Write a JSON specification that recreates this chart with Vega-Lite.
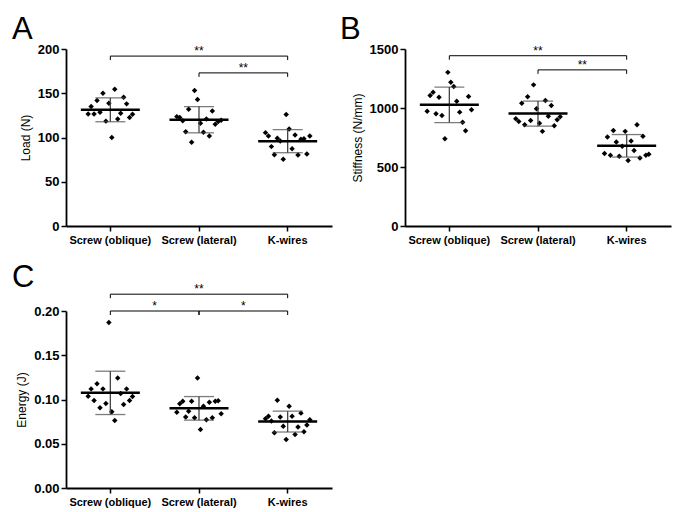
{
  "$schema": "https://vega.github.io/schema/vega-lite/v6.json",
  "background": "white",
  "padding": {"left": 12, "top": 14, "right": 4, "bottom": 4},
  "config": {
    "font": "Liberation Sans",
    "view": {"stroke": null},
    "axis": {"grid": false, "domainColor": "black", "domainWidth": 1.8, "tickColor": "black", "tickWidth": 1.5, "tickSize": 5, "labelColor": "black", "titleColor": "black", "labelFont": "Liberation Sans", "titleFont": "Liberation Sans"},
    "axisY": {"labelFontSize": 13, "labelFontWeight": "bold", "titleFontSize": 12, "titleFontWeight": "normal", "titlePadding": 5, "labelPadding": 2},
    "axisX": {"labelFontSize": 11, "labelFontWeight": "bold", "labelAngle": 0, "labelPadding": 3},
    "title": {"fontSize": 31, "fontWeight": "normal", "anchor": "start", "frame": "group", "color": "black", "font": "Liberation Sans"}
  },
  "datasets": {
    "pts": [
      {"panel":"A","group":"Screw (oblique)","id":1,"value":126.6},{"panel":"A","group":"Screw (oblique)","id":2,"value":134.9},{"panel":"A","group":"Screw (oblique)","id":3,"value":126.6},{"panel":"A","group":"Screw (oblique)","id":4,"value":141.7},{"panel":"A","group":"Screw (oblique)","id":5,"value":128.5},{"panel":"A","group":"Screw (oblique)","id":6,"value":150},{"panel":"A","group":"Screw (oblique)","id":7,"value":118.5},{"panel":"A","group":"Screw (oblique)","id":8,"value":138.7},{"panel":"A","group":"Screw (oblique)","id":9,"value":100},{"panel":"A","group":"Screw (oblique)","id":10,"value":154.5},{"panel":"A","group":"Screw (oblique)","id":11,"value":121},{"panel":"A","group":"Screw (oblique)","id":12,"value":127.5},{"panel":"A","group":"Screw (oblique)","id":13,"value":145.5},{"panel":"A","group":"Screw (oblique)","id":14,"value":138},{"panel":"A","group":"Screw (oblique)","id":15,"value":122.5},{"panel":"A","group":"Screw (oblique)","id":16,"value":126.2},
      {"panel":"A","group":"Screw (lateral)","id":1,"value":123.6},{"panel":"A","group":"Screw (lateral)","id":2,"value":122.5},{"panel":"A","group":"Screw (lateral)","id":3,"value":119},{"panel":"A","group":"Screw (lateral)","id":4,"value":106.6},{"panel":"A","group":"Screw (lateral)","id":5,"value":132},{"panel":"A","group":"Screw (lateral)","id":6,"value":94.6},{"panel":"A","group":"Screw (lateral)","id":7,"value":153},{"panel":"A","group":"Screw (lateral)","id":8,"value":143},{"panel":"A","group":"Screw (lateral)","id":9,"value":116},{"panel":"A","group":"Screw (lateral)","id":10,"value":105.9},{"panel":"A","group":"Screw (lateral)","id":11,"value":121},{"panel":"A","group":"Screw (lateral)","id":12,"value":101.7},{"panel":"A","group":"Screw (lateral)","id":13,"value":130},{"panel":"A","group":"Screw (lateral)","id":14,"value":115},{"panel":"A","group":"Screw (lateral)","id":15,"value":118},{"panel":"A","group":"Screw (lateral)","id":16,"value":119.5},
      {"panel":"A","group":"K-wires","id":1,"value":105.5},{"panel":"A","group":"K-wires","id":2,"value":101.7},{"panel":"A","group":"K-wires","id":3,"value":89.7},{"panel":"A","group":"K-wires","id":4,"value":80.6},{"panel":"A","group":"K-wires","id":5,"value":99.1},{"panel":"A","group":"K-wires","id":6,"value":96},{"panel":"A","group":"K-wires","id":7,"value":75.3},{"panel":"A","group":"K-wires","id":8,"value":125.9},{"panel":"A","group":"K-wires","id":9,"value":109.7},{"panel":"A","group":"K-wires","id":10,"value":87.4},{"panel":"A","group":"K-wires","id":11,"value":102.9},{"panel":"A","group":"K-wires","id":12,"value":80.2},{"panel":"A","group":"K-wires","id":13,"value":98},{"panel":"A","group":"K-wires","id":14,"value":98.7},{"panel":"A","group":"K-wires","id":15,"value":81.3},{"panel":"A","group":"K-wires","id":16,"value":101.7},
      {"panel":"B","group":"Screw (oblique)","id":1,"value":973},{"panel":"B","group":"Screw (oblique)","id":2,"value":1106},{"panel":"B","group":"Screw (oblique)","id":3,"value":1134},{"panel":"B","group":"Screw (oblique)","id":4,"value":951},{"panel":"B","group":"Screw (oblique)","id":5,"value":1092},{"panel":"B","group":"Screw (oblique)","id":6,"value":937},{"panel":"B","group":"Screw (oblique)","id":7,"value":740},{"panel":"B","group":"Screw (oblique)","id":8,"value":1302},{"panel":"B","group":"Screw (oblique)","id":9,"value":1218},{"panel":"B","group":"Screw (oblique)","id":10,"value":1182},{"panel":"B","group":"Screw (oblique)","id":11,"value":1058},{"panel":"B","group":"Screw (oblique)","id":12,"value":965},{"panel":"B","group":"Screw (oblique)","id":13,"value":880},{"panel":"B","group":"Screw (oblique)","id":14,"value":808},{"panel":"B","group":"Screw (oblique)","id":15,"value":1097},{"panel":"B","group":"Screw (oblique)","id":16,"value":985},
      {"panel":"B","group":"Screw (lateral)","id":1,"value":909},{"panel":"B","group":"Screw (lateral)","id":2,"value":886},{"panel":"B","group":"Screw (lateral)","id":3,"value":1041},{"panel":"B","group":"Screw (lateral)","id":4,"value":858},{"panel":"B","group":"Screw (lateral)","id":5,"value":1095},{"panel":"B","group":"Screw (lateral)","id":6,"value":895},{"panel":"B","group":"Screw (lateral)","id":7,"value":1196},{"panel":"B","group":"Screw (lateral)","id":8,"value":993},{"panel":"B","group":"Screw (lateral)","id":9,"value":870},{"panel":"B","group":"Screw (lateral)","id":10,"value":802},{"panel":"B","group":"Screw (lateral)","id":11,"value":1064},{"panel":"B","group":"Screw (lateral)","id":12,"value":931},{"panel":"B","group":"Screw (lateral)","id":13,"value":1021},{"panel":"B","group":"Screw (lateral)","id":14,"value":850},{"panel":"B","group":"Screw (lateral)","id":15,"value":901},{"panel":"B","group":"Screw (lateral)","id":16,"value":926},
      {"panel":"B","group":"K-wires","id":1,"value":614},{"panel":"B","group":"K-wires","id":2,"value":754},{"panel":"B","group":"K-wires","id":3,"value":599},{"panel":"B","group":"K-wires","id":4,"value":810},{"panel":"B","group":"K-wires","id":5,"value":712},{"panel":"B","group":"K-wires","id":6,"value":591},{"panel":"B","group":"K-wires","id":7,"value":675},{"panel":"B","group":"K-wires","id":8,"value":802},{"panel":"B","group":"K-wires","id":9,"value":555},{"panel":"B","group":"K-wires","id":10,"value":720},{"panel":"B","group":"K-wires","id":11,"value":639},{"panel":"B","group":"K-wires","id":12,"value":858},{"panel":"B","group":"K-wires","id":13,"value":577},{"panel":"B","group":"K-wires","id":14,"value":760},{"panel":"B","group":"K-wires","id":15,"value":599},{"panel":"B","group":"K-wires","id":16,"value":608},
      {"panel":"C","group":"Screw (oblique)","id":1,"value":0.1038},{"panel":"C","group":"Screw (oblique)","id":2,"value":0.112},{"panel":"C","group":"Screw (oblique)","id":3,"value":0.0989},{"panel":"C","group":"Screw (oblique)","id":4,"value":0.1177},{"panel":"C","group":"Screw (oblique)","id":5,"value":0.0906},{"panel":"C","group":"Screw (oblique)","id":6,"value":0.112},{"panel":"C","group":"Screw (oblique)","id":7,"value":0.0955},{"panel":"C","group":"Screw (oblique)","id":8,"value":0.187},{"panel":"C","group":"Screw (oblique)","id":9,"value":0.0861},{"panel":"C","group":"Screw (oblique)","id":10,"value":0.0763},{"panel":"C","group":"Screw (oblique)","id":11,"value":0.1244},{"panel":"C","group":"Screw (oblique)","id":12,"value":0.1068},{"panel":"C","group":"Screw (oblique)","id":13,"value":0.0944},{"panel":"C","group":"Screw (oblique)","id":14,"value":0.112},{"panel":"C","group":"Screw (oblique)","id":15,"value":0.0989},{"panel":"C","group":"Screw (oblique)","id":16,"value":0.1034},
      {"panel":"C","group":"Screw (lateral)","id":1,"value":0.0857},{"panel":"C","group":"Screw (lateral)","id":2,"value":0.0951},{"panel":"C","group":"Screw (lateral)","id":3,"value":0.0981},{"panel":"C","group":"Screw (lateral)","id":4,"value":0.0801},{"panel":"C","group":"Screw (lateral)","id":5,"value":0.0868},{"panel":"C","group":"Screw (lateral)","id":6,"value":0.0981},{"panel":"C","group":"Screw (lateral)","id":7,"value":0.0793},{"panel":"C","group":"Screw (lateral)","id":8,"value":0.1244},{"panel":"C","group":"Screw (lateral)","id":9,"value":0.0662},{"panel":"C","group":"Screw (lateral)","id":10,"value":0.0925},{"panel":"C","group":"Screw (lateral)","id":11,"value":0.0771},{"panel":"C","group":"Screw (lateral)","id":12,"value":0.097},{"panel":"C","group":"Screw (lateral)","id":13,"value":0.0793},{"panel":"C","group":"Screw (lateral)","id":14,"value":0.0981},{"panel":"C","group":"Screw (lateral)","id":15,"value":0.0985},{"panel":"C","group":"Screw (lateral)","id":16,"value":0.0838},
      {"panel":"C","group":"K-wires","id":1,"value":0.0782},{"panel":"C","group":"K-wires","id":2,"value":0.0812},{"panel":"C","group":"K-wires","id":3,"value":0.0756},{"panel":"C","group":"K-wires","id":4,"value":0.0624},{"panel":"C","group":"K-wires","id":5,"value":0.0992},{"panel":"C","group":"K-wires","id":6,"value":0.0801},{"panel":"C","group":"K-wires","id":7,"value":0.0699},{"panel":"C","group":"K-wires","id":8,"value":0.0549},{"panel":"C","group":"K-wires","id":9,"value":0.0925},{"panel":"C","group":"K-wires","id":10,"value":0.0812},{"panel":"C","group":"K-wires","id":11,"value":0.0605},{"panel":"C","group":"K-wires","id":12,"value":0.0688},{"panel":"C","group":"K-wires","id":13,"value":0.0846},{"panel":"C","group":"K-wires","id":14,"value":0.0635},{"panel":"C","group":"K-wires","id":15,"value":0.0711},{"panel":"C","group":"K-wires","id":16,"value":0.0771}
    ],
    "brk": [
      {"panel":"A","from":"Screw (oblique)","to":"K-wires","mid":"Screw (lateral)","level":192,"label":"**"},
      {"panel":"A","from":"Screw (lateral)","to":"K-wires","level":173,"label":"**"},
      {"panel":"B","from":"Screw (oblique)","to":"K-wires","mid":"Screw (lateral)","level":1443,"label":"**"},
      {"panel":"B","from":"Screw (lateral)","to":"K-wires","level":1323,"label":"**"},
      {"panel":"C","from":"Screw (oblique)","to":"K-wires","mid":"Screw (lateral)","level":0.219,"label":"**"},
      {"panel":"C","from":"Screw (oblique)","to":"Screw (lateral)","level":0.2,"label":"*"},
      {"panel":"C","from":"Screw (lateral)","to":"K-wires","level":0.2,"label":"*"}
    ]
  },
  "spacing": 17,
  "vconcat": [
    {
      "spacing": 8,
      "hconcat": [
        {
          "title": {"text": "A", "dx": -54, "offset": -3},
          "width": 266, "height": 177,
          "layer": [
            {"data": {"name": "pts"}, "transform": [{"filter": "datum.panel == 'A'"}],
             "mark": {"type": "point", "shape": "diamond", "filled": true, "color": "black", "size": 30, "opacity": 1},
             "encoding": {
               "x": {"field": "group", "type": "nominal", "title": null, "scale": {"domain": ["Screw (oblique)", "Screw (lateral)", "K-wires"], "paddingInner": 0.5, "paddingOuter": 0.25}},
               "xOffset": {"field": "id", "type": "ordinal", "scale": {"paddingInner": 0, "paddingOuter": 0}},
               "y": {"field": "value", "type": "quantitative", "title": "Load (N)", "scale": {"domain": [0, 200], "nice": false}, "axis": {"values": [0, 50, 100, 150, 200]}}}},
            {"data": {"name": "pts"}, "transform": [{"filter": "datum.panel == 'A'"}],
             "mark": {"type": "errorbar", "extent": "stdev", "ticks": true, "size": 30, "thickness": 1.3, "color": "#444"},
             "encoding": {
               "x": {"field": "group", "type": "nominal", "title": null},
               "y": {"field": "value", "type": "quantitative", "title": "Load (N)"}}},
            {"data": {"name": "pts"}, "transform": [{"filter": "datum.panel == 'A'"}],
             "mark": {"type": "tick", "color": "black", "thickness": 2.5, "size": 59},
             "encoding": {
               "x": {"field": "group", "type": "nominal", "title": null},
               "y": {"aggregate": "mean", "field": "value", "type": "quantitative", "title": "Load (N)"}}},
            {"data": {"name": "brk"}, "transform": [{"filter": "datum.panel == 'A'"}],
             "mark": {"type": "rule", "color": "black", "strokeWidth": 1},
             "encoding": {
               "x": {"field": "from", "type": "nominal", "bandPosition": 0.5, "title": null},
               "x2": {"field": "to", "bandPosition": 0.5},
               "y": {"field": "level", "type": "quantitative", "title": "Load (N)"}}},
            {"data": {"name": "brk"}, "transform": [{"filter": "datum.panel == 'A'"}, {"fold": ["from", "to"], "as": ["side", "end"]}],
             "mark": {"type": "rule", "color": "black", "strokeWidth": 1, "y2Offset": 4},
             "encoding": {
               "x": {"field": "end", "type": "nominal", "bandPosition": 0.5, "title": null},
               "y": {"field": "level", "type": "quantitative", "title": "Load (N)"},
               "y2": {"field": "level"}}},
            {"data": {"name": "brk"}, "transform": [{"filter": "datum.panel == 'A' && datum.mid"}],
             "mark": {"type": "text", "fontSize": 12, "baseline": "alphabetic", "dy": -1, "color": "black"},
             "encoding": {
               "x": {"field": "mid", "type": "nominal", "bandPosition": 0.5, "title": null},
               "y": {"field": "level", "type": "quantitative", "title": "Load (N)"},
               "text": {"field": "label"}}},
            {"data": {"name": "brk"}, "transform": [{"filter": "datum.panel == 'A' && !datum.mid"}],
             "mark": {"type": "text", "fontSize": 12, "baseline": "alphabetic", "dy": -1, "color": "black"},
             "encoding": {
               "x": {"field": "from", "type": "nominal", "bandPosition": 1.5, "title": null},
               "y": {"field": "level", "type": "quantitative", "title": "Load (N)"},
               "text": {"field": "label"}}}
          ]
        },
        {
          "title": {"text": "B", "dx": -65, "offset": -3},
          "width": 266, "height": 177,
          "layer": [
            {"data": {"name": "pts"}, "transform": [{"filter": "datum.panel == 'B'"}],
             "mark": {"type": "point", "shape": "diamond", "filled": true, "color": "black", "size": 30, "opacity": 1},
             "encoding": {
               "x": {"field": "group", "type": "nominal", "title": null, "scale": {"domain": ["Screw (oblique)", "Screw (lateral)", "K-wires"], "paddingInner": 0.5, "paddingOuter": 0.25}},
               "xOffset": {"field": "id", "type": "ordinal", "scale": {"paddingInner": 0, "paddingOuter": 0}},
               "y": {"field": "value", "type": "quantitative", "title": "Stiffness (N/mm)", "scale": {"domain": [0, 1500], "nice": false}, "axis": {"values": [0, 500, 1000, 1500], "format": "d"}}}},
            {"data": {"name": "pts"}, "transform": [{"filter": "datum.panel == 'B'"}],
             "mark": {"type": "errorbar", "extent": "stdev", "ticks": true, "size": 30, "thickness": 1.3, "color": "#444"},
             "encoding": {
               "x": {"field": "group", "type": "nominal", "title": null},
               "y": {"field": "value", "type": "quantitative", "title": "Stiffness (N/mm)"}}},
            {"data": {"name": "pts"}, "transform": [{"filter": "datum.panel == 'B'"}],
             "mark": {"type": "tick", "color": "black", "thickness": 2.5, "size": 59},
             "encoding": {
               "x": {"field": "group", "type": "nominal", "title": null},
               "y": {"aggregate": "mean", "field": "value", "type": "quantitative", "title": "Stiffness (N/mm)"}}},
            {"data": {"name": "brk"}, "transform": [{"filter": "datum.panel == 'B'"}],
             "mark": {"type": "rule", "color": "black", "strokeWidth": 1},
             "encoding": {
               "x": {"field": "from", "type": "nominal", "bandPosition": 0.5, "title": null},
               "x2": {"field": "to", "bandPosition": 0.5},
               "y": {"field": "level", "type": "quantitative", "title": "Stiffness (N/mm)"}}},
            {"data": {"name": "brk"}, "transform": [{"filter": "datum.panel == 'B'"}, {"fold": ["from", "to"], "as": ["side", "end"]}],
             "mark": {"type": "rule", "color": "black", "strokeWidth": 1, "y2Offset": 4},
             "encoding": {
               "x": {"field": "end", "type": "nominal", "bandPosition": 0.5, "title": null},
               "y": {"field": "level", "type": "quantitative", "title": "Stiffness (N/mm)"},
               "y2": {"field": "level"}}},
            {"data": {"name": "brk"}, "transform": [{"filter": "datum.panel == 'B' && datum.mid"}],
             "mark": {"type": "text", "fontSize": 12, "baseline": "alphabetic", "dy": -1, "color": "black"},
             "encoding": {
               "x": {"field": "mid", "type": "nominal", "bandPosition": 0.5, "title": null},
               "y": {"field": "level", "type": "quantitative", "title": "Stiffness (N/mm)"},
               "text": {"field": "label"}}},
            {"data": {"name": "brk"}, "transform": [{"filter": "datum.panel == 'B' && !datum.mid"}],
             "mark": {"type": "text", "fontSize": 12, "baseline": "alphabetic", "dy": -1, "color": "black"},
             "encoding": {
               "x": {"field": "from", "type": "nominal", "bandPosition": 1.5, "title": null},
               "y": {"field": "level", "type": "quantitative", "title": "Stiffness (N/mm)"},
               "text": {"field": "label"}}}
          ]
        }
      ]
    },
    {
      "title": {"text": "C", "dx": -54, "offset": -11},
      "width": 266, "height": 177,
      "layer": [
        {"data": {"name": "pts"}, "transform": [{"filter": "datum.panel == 'C'"}],
         "mark": {"type": "point", "shape": "diamond", "filled": true, "color": "black", "size": 30, "opacity": 1},
         "encoding": {
           "x": {"field": "group", "type": "nominal", "title": null, "scale": {"domain": ["Screw (oblique)", "Screw (lateral)", "K-wires"], "paddingInner": 0.5, "paddingOuter": 0.25}},
           "xOffset": {"field": "id", "type": "ordinal", "scale": {"paddingInner": 0, "paddingOuter": 0}},
           "y": {"field": "value", "type": "quantitative", "title": "Energy (J)", "scale": {"domain": [0, 0.2], "nice": false}, "axis": {"values": [0, 0.05, 0.1, 0.15, 0.2], "format": ".2f"}}}},
        {"data": {"name": "pts"}, "transform": [{"filter": "datum.panel == 'C'"}],
         "mark": {"type": "errorbar", "extent": "stdev", "ticks": true, "size": 30, "thickness": 1.3, "color": "#444"},
         "encoding": {
           "x": {"field": "group", "type": "nominal", "title": null},
           "y": {"field": "value", "type": "quantitative", "title": "Energy (J)"}}},
        {"data": {"name": "pts"}, "transform": [{"filter": "datum.panel == 'C'"}],
         "mark": {"type": "tick", "color": "black", "thickness": 2.5, "size": 59},
         "encoding": {
           "x": {"field": "group", "type": "nominal", "title": null},
           "y": {"aggregate": "mean", "field": "value", "type": "quantitative", "title": "Energy (J)"}}},
        {"data": {"name": "brk"}, "transform": [{"filter": "datum.panel == 'C'"}],
         "mark": {"type": "rule", "color": "black", "strokeWidth": 1},
         "encoding": {
           "x": {"field": "from", "type": "nominal", "bandPosition": 0.5, "title": null},
           "x2": {"field": "to", "bandPosition": 0.5},
           "y": {"field": "level", "type": "quantitative", "title": "Energy (J)"}}},
        {"data": {"name": "brk"}, "transform": [{"filter": "datum.panel == 'C'"}, {"fold": ["from", "to"], "as": ["side", "end"]}],
         "mark": {"type": "rule", "color": "black", "strokeWidth": 1, "y2Offset": 4},
         "encoding": {
           "x": {"field": "end", "type": "nominal", "bandPosition": 0.5, "title": null},
           "y": {"field": "level", "type": "quantitative", "title": "Energy (J)"},
           "y2": {"field": "level"}}},
        {"data": {"name": "brk"}, "transform": [{"filter": "datum.panel == 'C' && datum.mid"}],
         "mark": {"type": "text", "fontSize": 12, "baseline": "alphabetic", "dy": -1, "color": "black"},
         "encoding": {
           "x": {"field": "mid", "type": "nominal", "bandPosition": 0.5, "title": null},
           "y": {"field": "level", "type": "quantitative", "title": "Energy (J)"},
           "text": {"field": "label"}}},
        {"data": {"name": "brk"}, "transform": [{"filter": "datum.panel == 'C' && !datum.mid"}],
         "mark": {"type": "text", "fontSize": 12, "baseline": "alphabetic", "dy": -1, "color": "black"},
         "encoding": {
           "x": {"field": "from", "type": "nominal", "bandPosition": 1.5, "title": null},
           "y": {"field": "level", "type": "quantitative", "title": "Energy (J)"},
           "text": {"field": "label"}}}
      ]
    }
  ]
}
